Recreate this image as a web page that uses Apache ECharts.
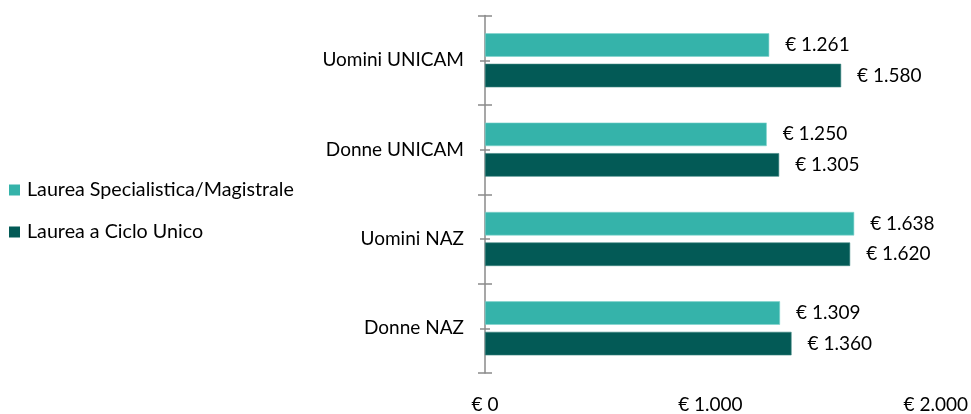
<!DOCTYPE html>
<html>
<head>
<meta charset="utf-8">
<script src="https://cdn.jsdelivr.net/npm/echarts@6/dist/echarts.min.js"></script>
<style>
html,body{margin:0;padding:0;background:#fff;}
#chart{width:971px;height:414px;}
</style>
</head>
<body>
<div id="chart"></div>
<script>
const categories = ['Uomini UNICAM', 'Donne UNICAM', 'Uomini NAZ', 'Donne NAZ'];
const seriesNames = ['Laurea Specialistica/Magistrale', 'Laurea a Ciclo Unico'];
const specialisticaValues = [1261, 1250, 1638, 1309];
const cicloUnicoValues = [1580, 1305, 1620, 1360];
const xTicks = [0, 1000, 2000];

const FONT = 'Lato';
const AXIS_GRAY = '#8a8a8a';

function euro(v) {
  return '€ ' + String(Math.round(v)).replace(/\B(?=(\d{3})+(?!\d))/g, '.');
}

function tickAxis(inside, align, len, show) {
  return {
    type: 'category', data: categories, inverse: true, position: 'left', offset: 0,
    axisLine: { show: show, lineStyle: { color: AXIS_GRAY, width: 1.5 } },
    axisTick: { show: true, inside: inside, alignWithLabel: align, length: len,
      lineStyle: { color: AXIS_GRAY, width: 1.5 } },
    axisLabel: { show: false }, splitLine: { show: false }
  };
}

const chart = echarts.init(document.getElementById('chart'), null, { renderer: 'canvas' });
const yMain = tickAxis(false, false, 7, true);
yMain.axisLabel = { show: true, color: '#000', fontFamily: FONT, fontSize: 19, margin: 21 };

chart.setOption({
  animation: false,
  backgroundColor: '#fff',
  textStyle: { fontFamily: FONT },
  legend: {
    orient: 'vertical', left: 9, top: 180, padding: 0,
    itemWidth: 11, itemHeight: 11, itemGap: 22, icon: 'rect',
    itemStyle: { borderWidth: 0 },
    data: seriesNames,
    textStyle: { color: '#000', fontFamily: FONT, fontSize: 19.7, lineHeight: 20, padding: [0, 0, 0, 2] }
  },
  grid: { left: 485, right: 34, top: 15.6, bottom: 36, containLabel: false },
  xAxis: {
    type: 'value', min: xTicks[0], max: xTicks[xTicks.length - 1], interval: xTicks[1] - xTicks[0],
    axisLine: { show: false }, axisTick: { show: false }, splitLine: { show: false },
    axisLabel: { color: '#000', fontFamily: FONT, fontSize: 19, margin: 22, formatter: euro }
  },
  yAxis: [
    yMain,
    tickAxis(true, false, 7, false),
    tickAxis(false, true, 5, false),
    tickAxis(true, true, 5, false)
  ],
  series: [
    {
      name: seriesNames[0], type: 'bar', yAxisIndex: 0, data: specialisticaValues,
      barWidth: 23.5, barGap: '30%',
      itemStyle: { color: '#35B3AA', borderColor: '#7fd3cc', borderWidth: 0.6 },
      label: { show: true, position: 'right', distance: 16, color: '#000', fontFamily: FONT, fontSize: 19,
        formatter: p => euro(p.value) }
    },
    {
      name: seriesNames[1], type: 'bar', yAxisIndex: 0, data: cicloUnicoValues,
      barWidth: 23.5, barGap: '30%',
      itemStyle: { color: '#035A56', borderColor: '#3d8580', borderWidth: 0.6 },
      label: { show: true, position: 'right', distance: 16, color: '#000', fontFamily: FONT, fontSize: 19,
        formatter: p => euro(p.value) }
    }
  ]
});
</script>
</body>
</html>
